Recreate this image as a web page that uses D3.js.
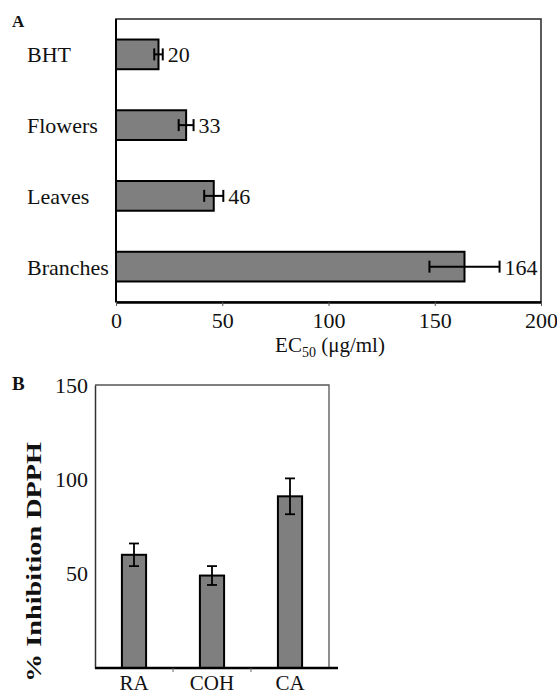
<!DOCTYPE html>
<html>
<head>
<meta charset="utf-8">
<script src="https://cdn.jsdelivr.net/npm/d3@7"></script>
<style>
  body { margin: 0; background: #fff; }
  text { font-family: "Liberation Serif", "Times New Roman", serif; fill: #111; }
</style>
</head>
<body>
<div id="chart"></div>
<script>
// panel A data (EC50)
var catsA = ["BHT", "Flowers", "Leaves", "Branches"];
var valsA = [20, 33, 46, 164];
var errA = [2, 3.5, 4.5, 16.5];
var ticksA = [0, 50, 100, 150, 200];

// panel B data (% inhibition)
var catsB = ["RA", "COH", "CA"];
var valsB = [60, 49, 91];
var errB = [6, 5, 9.5];
var ticksB = [50, 100, 150];

var barFill = "#7f7f7f";

var svg = d3.select("#chart").append("svg")
    .attr("width", 557)
    .attr("height", 694);

// ---------- Panel A ----------
var a = { left: 116, right: 541, top: 19, bottom: 302 };

var xA = d3.scaleLinear().domain([0, 200]).range([a.left, a.right]);
var yA = d3.scaleBand().domain(catsA).range([a.top, a.bottom])
    .paddingInner(0.58).paddingOuter(0.29);

// frame
svg.append("rect")
    .attr("x", a.left).attr("y", a.top)
    .attr("width", a.right - a.left).attr("height", a.bottom - a.top)
    .attr("fill", "none").attr("stroke", "#333").attr("stroke-width", 1.6);

// bars
svg.selectAll(".barA").data(catsA).enter().append("rect")
    .attr("class", "barA")
    .attr("x", xA(0))
    .attr("y", function (d) { return yA(d); })
    .attr("width", function (d, i) { return xA(valsA[i]) - xA(0); })
    .attr("height", yA.bandwidth())
    .attr("fill", barFill).attr("stroke", "#000").attr("stroke-width", 2);

// error bars
var errGA = svg.selectAll(".errA").data(catsA).enter().append("g").attr("class", "errA")
    .attr("stroke", "#000").attr("stroke-width", 2);
errGA.append("line")
    .attr("x1", function (d, i) { return xA(valsA[i] - errA[i]); })
    .attr("x2", function (d, i) { return xA(valsA[i] + errA[i]); })
    .attr("y1", function (d) { return yA(d) + yA.bandwidth() / 2; })
    .attr("y2", function (d) { return yA(d) + yA.bandwidth() / 2; });
[-1, 1].forEach(function (s) {
    errGA.append("line")
        .attr("x1", function (d, i) { return xA(valsA[i] + s * errA[i]); })
        .attr("x2", function (d, i) { return xA(valsA[i] + s * errA[i]); })
        .attr("y1", function (d) { return yA(d) + yA.bandwidth() / 2 - 6; })
        .attr("y2", function (d) { return yA(d) + yA.bandwidth() / 2 + 6; });
});

// value labels
svg.selectAll(".valA").data(catsA).enter().append("text")
    .attr("x", function (d, i) { return xA(valsA[i] + errA[i]) + 5; })
    .attr("y", function (d) { return yA(d) + yA.bandwidth() / 2 + 8; })
    .style("font-size", "22px")
    .text(function (d, i) { return valsA[i]; });

// category labels (left aligned)
svg.selectAll(".catA").data(catsA).enter().append("text")
    .attr("x", 27)
    .attr("y", function (d) { return yA(d) + yA.bandwidth() / 2 + 8; })
    .style("font-size", "22px")
    .text(function (d) { return d; });

// x axis
var axA = svg.append("g")
    .attr("transform", "translate(0," + a.bottom + ")")
    .call(d3.axisBottom(xA).tickValues(ticksA).tickSize(4).tickSizeOuter(0).tickPadding(6));
axA.select(".domain").attr("stroke", "#000").attr("stroke-width", 2.5);
axA.selectAll(".tick line").attr("stroke", "#555");
axA.selectAll(".tick text")
    .style("font-family", "Liberation Serif, serif").style("font-size", "22px").attr("fill", "#111");

// left axis line
svg.append("line")
    .attr("x1", a.left).attr("x2", a.left).attr("y1", a.top).attr("y2", a.bottom)
    .attr("stroke", "#000").attr("stroke-width", 2);

// x title
var tA = svg.append("text")
    .attr("x", 330).attr("y", 352)
    .attr("text-anchor", "middle")
    .style("font-size", "21px");
tA.append("tspan").text("EC");
tA.append("tspan").attr("dy", 5).style("font-size", "14px").text("50");
tA.append("tspan").attr("dy", -5).text(" (\u03bcg/ml)");

svg.append("text").attr("x", 12).attr("y", 27)
    .style("font-size", "17px").style("font-weight", "bold").text("A");

// ---------- Panel B ----------
var b = { left: 95, right: 329, top: 385, bottom: 668 };

var xB = d3.scaleBand().domain(catsB).range([b.left, b.right])
    .paddingInner(0.69).paddingOuter(0.345);
var yB = d3.scaleLinear().domain([0, 150]).range([b.bottom, b.top]);

// top and right frame lines
svg.append("path")
    .attr("d", "M" + b.left + "," + b.top + "H" + b.right + "V" + b.bottom)
    .attr("fill", "none").attr("stroke", "#555").attr("stroke-width", 1.3);

// bars
svg.selectAll(".barB").data(catsB).enter().append("rect")
    .attr("class", "barB")
    .attr("x", function (d) { return xB(d); })
    .attr("y", function (d, i) { return yB(valsB[i]); })
    .attr("width", xB.bandwidth())
    .attr("height", function (d, i) { return yB(0) - yB(valsB[i]); })
    .attr("fill", barFill).attr("stroke", "#000").attr("stroke-width", 2);

// error bars
var errGB = svg.selectAll(".errB").data(catsB).enter().append("g").attr("class", "errB")
    .attr("stroke", "#000").attr("stroke-width", 1.8);
errGB.append("line")
    .attr("x1", function (d) { return xB(d) + xB.bandwidth() / 2; })
    .attr("x2", function (d) { return xB(d) + xB.bandwidth() / 2; })
    .attr("y1", function (d, i) { return yB(valsB[i] - errB[i]); })
    .attr("y2", function (d, i) { return yB(valsB[i] + errB[i]); });
[-1, 1].forEach(function (s) {
    errGB.append("line")
        .attr("x1", function (d) { return xB(d) + xB.bandwidth() / 2 - 5; })
        .attr("x2", function (d) { return xB(d) + xB.bandwidth() / 2 + 5; })
        .attr("y1", function (d, i) { return yB(valsB[i] + s * errB[i]); })
        .attr("y2", function (d, i) { return yB(valsB[i] + s * errB[i]); });
});

// y axis
var ayB = svg.append("g")
    .attr("transform", "translate(" + b.left + ",0)")
    .call(d3.axisLeft(yB).tickValues(ticksB).tickSize(0).tickPadding(7));
ayB.select(".domain").attr("stroke", "#333").attr("stroke-width", 1.5);
ayB.selectAll(".tick text")
    .style("font-family", "Liberation Serif, serif").style("font-size", "22px").attr("fill", "#111");

// x axis (ticks between categories)
svg.append("line")
    .attr("x1", b.left).attr("x2", b.right + 9).attr("y1", b.bottom).attr("y2", b.bottom)
    .attr("stroke", "#000").attr("stroke-width", 2.5);
var stepB = xB.step();
svg.selectAll(".sepB").data(catsB.slice(1)).enter().append("line")
    .attr("x1", function (d) { return xB(d) + xB.bandwidth() / 2 - stepB / 2; })
    .attr("x2", function (d) { return xB(d) + xB.bandwidth() / 2 - stepB / 2; })
    .attr("y1", b.bottom).attr("y2", b.bottom + 4)
    .attr("stroke", "#666").attr("stroke-width", 1);

svg.selectAll(".catB").data(catsB).enter().append("text")
    .attr("x", function (d) { return xB(d) + xB.bandwidth() / 2; })
    .attr("y", 690)
    .attr("text-anchor", "middle")
    .style("font-size", "21px")
    .text(function (d) { return d; });

// y title
svg.append("text")
    .attr("transform", "translate(41,562) rotate(-90)")
    .attr("text-anchor", "middle")
    .attr("textLength", 240).attr("lengthAdjust", "spacingAndGlyphs")
    .style("font-size", "22px").style("font-weight", "bold")
    .text("% Inhibition DPPH");

svg.append("text").attr("x", 12).attr("y", 390)
    .style("font-size", "19px").style("font-weight", "bold").text("B");
</script>
</body>
</html>
